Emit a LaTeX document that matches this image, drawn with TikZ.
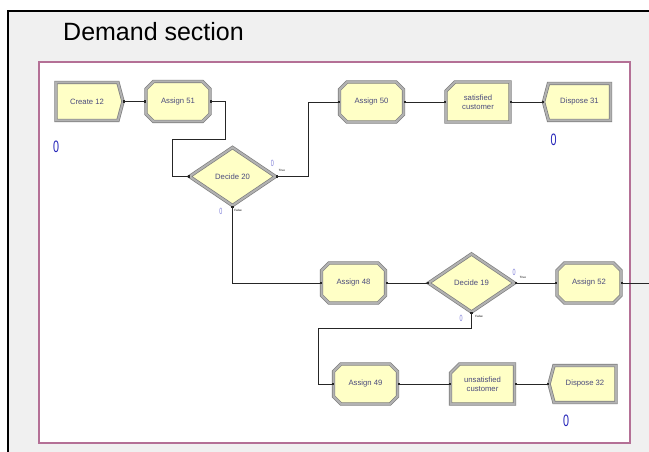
\documentclass[tikz,border=0pt]{standalone}
\usepackage{fontspec}
\setmainfont{Liberation Sans}
\usetikzlibrary{shapes.geometric,shapes.misc,shapes.symbols,arrows.meta}

\definecolor{modfill}{RGB}{255,255,198}
\definecolor{modedge}{RGB}{125,125,125}
\definecolor{modband}{RGB}{178,178,178}
\definecolor{modtext}{RGB}{75,75,125}
\definecolor{framecol}{RGB}{180,112,150}
\definecolor{bgcol}{RGB}{240,240,240}
\definecolor{cnt}{RGB}{35,35,185}
\definecolor{cntlight}{RGB}{125,125,215}

\begin{document}
\begin{tikzpicture}[x=1pt,y=-1pt,
  module/.style={draw=modedge, line width=0.7pt, double=modband, double distance=2pt,
    fill=modfill, inner sep=0pt, outer sep=0pt,
    text=modtext, font=\fontsize{7.7}{8.7}\selectfont, align=center},
  assignbox/.style={module, chamfered rectangle, chamfered rectangle xsep=4pt,
    chamfered rectangle ysep=4pt, minimum width=64pt, minimum height=40pt},
  recordbox/.style={module, chamfered rectangle, chamfered rectangle corners=north west,
    chamfered rectangle xsep=4.5pt, chamfered rectangle ysep=4.5pt, minimum width=64pt, minimum height=40pt},
  createbox/.style={module, signal, signal to=east, signal pointer angle=150,
    minimum width=67pt, minimum height=38pt},
  disposebox/.style={module, signal, signal to=west, signal pointer angle=150,
    minimum width=67pt, minimum height=37pt},
  decidebox/.style={module, diamond, aspect=1.45, minimum width=86pt, minimum height=58pt},
  conn/.style={draw=black!85, line width=0.8pt, {Square[length=2pt,width=2.5pt]}-{Square[length=2pt,width=2.5pt]}},
  counter/.style={text=cnt, inner sep=0pt, font=\fontsize{16.5}{16.5}\selectfont},
  smallcounter/.style={text=cntlight, inner sep=0pt, font=\fontsize{9}{9}\selectfont},
  tinylabel/.style={text=black, inner sep=0pt, font=\fontsize{3}{3}\selectfont}
]
\useasboundingbox (0,0) rectangle (649,452);
\fill[white] (0,0) rectangle (649,452);
\fill[bgcol] (8,11) rectangle (649,452);
\draw[line width=2pt] (649,11) -- (8,11) -- (8,452);
\draw[framecol, line width=1.2pt, fill=white] (39,62) rectangle (630,443);

\node[anchor=base west, inner sep=0pt, font=\fontsize{25}{30}\selectfont] (title) at (63,41) {Demand section};

% modules
\node[createbox] (c12) at (87,101.5) {Create 12};
\node[assignbox] (a51) at (178,101.5) {Assign 51};
\node[decidebox] (d20) at (232.5,176.5) {Decide 20};
\node[assignbox] (a50) at (371.5,102) {Assign 50};
\node[recordbox] (sat) at (478,102) {satisfied\\customer};
\node[disposebox] (d31) at (579.5,102) {Dispose 31};
\node[assignbox] (a48) at (353.5,283) {Assign 48};
\node[decidebox] (d19) at (471.5,283) {Decide 19};
\node[assignbox] (a52) at (589,283) {Assign 52};
\node[assignbox] (a49) at (365.5,384) {Assign 49};
\node[recordbox] (uns) at (482.5,384) {unsatisfied\\customer};
\node[disposebox] (d32) at (585,384) {Dispose 32};
\coordinate (outR) at (649,283);

% connectors
\draw[conn] (c12.east) -- (a51.west);
\draw[conn] (a51.east) -- (225,101.5) -- (225,139) -- (172,139) |- (d20.west);
\draw[conn] (d20.east) -- (308,176.5) |- (a50.west);
\draw[conn] (a50.east) -- (sat.west);
\draw[conn] (sat.east) -- (d31.west);
\draw[conn] (d20.south) |- (a48.west);
\draw[conn] (a48.east) -- (d19.west);
\draw[conn] (d19.east) -- (a52.west);
\draw[draw=black!85, line width=0.8pt, {Square[length=2pt,width=2.5pt]}-] (a52.east) -- (outR);
\draw[conn] (d19.south) -- (471.5,328) -- (318,328) |- (a49.west);
\draw[conn] (a49.east) -- (uns.west);
\draw[conn] (uns.east) -- (d32.west);

% counters
\node[counter] (n1) at (56,146.5) {\scalebox{0.65}[1]{0}};
\node[counter] (n2) at (553.5,139.5) {\scalebox{0.65}[1]{0}};
\node[counter] (n3) at (566,421) {\scalebox{0.65}[1]{0}};
\node[smallcounter] (t20) at (272.5,163.5) {\scalebox{0.6}[1]{0}};
\node[tinylabel] (tt20) at (282,170.5) {True};
\node[smallcounter] (f20) at (221,211) {\scalebox{0.6}[1]{0}};
\node[tinylabel] (ff20) at (238,210.5) {False};
\node[smallcounter] (t19) at (514,272) {\scalebox{0.6}[1]{0}};
\node[tinylabel] (tt19) at (523,277) {True};
\node[smallcounter] (f19) at (461,318) {\scalebox{0.6}[1]{0}};
\node[tinylabel] (ff19) at (479,316) {False};
\end{tikzpicture}
\end{document}
